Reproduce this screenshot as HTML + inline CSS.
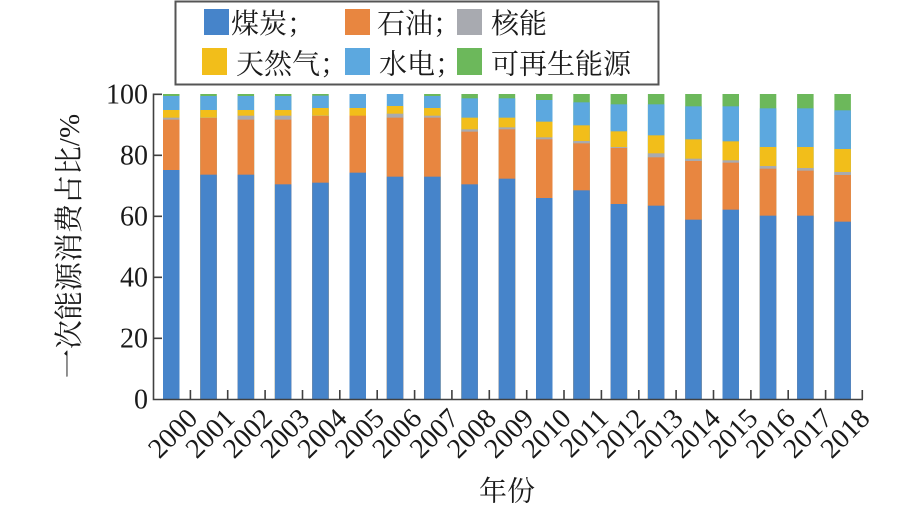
<!DOCTYPE html>
<html><head><meta charset="utf-8"><style>
html,body{margin:0;padding:0;background:#fff;}
svg{display:block;}
.n{font-family:"Liberation Serif","Noto Serif CJK SC",serif;font-size:28px;fill:#1a1a1a;}
.c{font-family:"Liberation Serif","Noto Serif CJK SC",serif;fill:#1a1a1a;}
</style></head><body>
<svg width="922" height="508" viewBox="0 0 922 508" xmlns="http://www.w3.org/2000/svg">
<rect width="922" height="508" fill="#fff"/>
<!-- legend -->
<rect x="175.5" y="1.5" width="483" height="83" fill="#fff" stroke="#555" stroke-width="2"/>
<rect x="204" y="9" width="25" height="26" fill="#4684CA"/>
<rect x="345" y="9" width="25" height="26" fill="#E88640"/>
<rect x="457" y="9" width="25" height="26" fill="#A8AAB0"/>
<rect x="202" y="48" width="25" height="27" fill="#F2BE1A"/>
<rect x="345" y="48" width="25" height="27" fill="#5CA8DF"/>
<rect x="457" y="48" width="25" height="27" fill="#6CB85B"/>
<g class="c" font-size="28">
<text x="231" y="33">煤炭；</text>
<text x="377" y="33">石油；</text>
<text x="491" y="33">核能</text>
<text x="236" y="73.5">天然气；</text>
<text x="379" y="73.5">水电；</text>
<text x="491" y="73.5">可再生能源</text>
</g>
<!-- bars -->
<g>
<!-- 2000 -->
<rect x="163" y="94" width="16.5" height="305" fill="#6CB85B"/><rect x="163" y="96" width="16.5" height="303" fill="#5CA8DF"/><rect x="163" y="110" width="16.5" height="289" fill="#F2BE1A"/><rect x="163" y="117.67" width="16.5" height="281.33" fill="#A8AAB0"/><rect x="163" y="119.67" width="16.5" height="279.33" fill="#E88640"/><rect x="163" y="170" width="16.5" height="229" fill="#4684CA"/>
<!-- 2001 -->
<rect x="200.3" y="94" width="16.5" height="305" fill="#6CB85B"/><rect x="200.3" y="96" width="16.5" height="303" fill="#5CA8DF"/><rect x="200.3" y="110" width="16.5" height="289" fill="#F2BE1A"/><rect x="200.3" y="117.67" width="16.5" height="281.33" fill="#A8AAB0"/><rect x="200.3" y="118" width="16.5" height="281" fill="#E88640"/><rect x="200.3" y="174.67" width="16.5" height="224.33" fill="#4684CA"/>
<!-- 2002 -->
<rect x="237.6" y="94" width="16.5" height="305" fill="#6CB85B"/><rect x="237.6" y="96" width="16.5" height="303" fill="#5CA8DF"/><rect x="237.6" y="110" width="16.5" height="289" fill="#F2BE1A"/><rect x="237.6" y="115.67" width="16.5" height="283.33" fill="#A8AAB0"/><rect x="237.6" y="119.67" width="16.5" height="279.33" fill="#E88640"/><rect x="237.6" y="174.67" width="16.5" height="224.33" fill="#4684CA"/>
<!-- 2003 -->
<rect x="274.9" y="94" width="16.5" height="305" fill="#6CB85B"/><rect x="274.9" y="96" width="16.5" height="303" fill="#5CA8DF"/><rect x="274.9" y="110" width="16.5" height="289" fill="#F2BE1A"/><rect x="274.9" y="115.67" width="16.5" height="283.33" fill="#A8AAB0"/><rect x="274.9" y="119.67" width="16.5" height="279.33" fill="#E88640"/><rect x="274.9" y="184.33" width="16.5" height="214.67" fill="#4684CA"/>
<!-- 2004 -->
<rect x="312.2" y="94" width="16.5" height="305" fill="#6CB85B"/><rect x="312.2" y="95.67" width="16.5" height="303.33" fill="#5CA8DF"/><rect x="312.2" y="108" width="16.5" height="291" fill="#F2BE1A"/><rect x="312.2" y="115.67" width="16.5" height="283.33" fill="#A8AAB0"/><rect x="312.2" y="116" width="16.5" height="283" fill="#E88640"/><rect x="312.2" y="182.67" width="16.5" height="216.33" fill="#4684CA"/>
<!-- 2005 -->
<rect x="349.5" y="94" width="16.5" height="305" fill="#5CA8DF"/><rect x="349.5" y="108" width="16.5" height="291" fill="#F2BE1A"/><rect x="349.5" y="115.67" width="16.5" height="283.33" fill="#E88640"/><rect x="349.5" y="172.67" width="16.5" height="226.33" fill="#4684CA"/>
<!-- 2006 -->
<rect x="386.8" y="94" width="16.5" height="305" fill="#5CA8DF"/><rect x="386.8" y="106" width="16.5" height="293" fill="#F2BE1A"/><rect x="386.8" y="113.67" width="16.5" height="285.33" fill="#A8AAB0"/><rect x="386.8" y="117.67" width="16.5" height="281.33" fill="#E88640"/><rect x="386.8" y="176.67" width="16.5" height="222.33" fill="#4684CA"/>
<!-- 2007 -->
<rect x="424.1" y="94" width="16.5" height="305" fill="#6CB85B"/><rect x="424.1" y="96" width="16.5" height="303" fill="#5CA8DF"/><rect x="424.1" y="108" width="16.5" height="291" fill="#F2BE1A"/><rect x="424.1" y="115.67" width="16.5" height="283.33" fill="#A8AAB0"/><rect x="424.1" y="117.67" width="16.5" height="281.33" fill="#E88640"/><rect x="424.1" y="176.67" width="16.5" height="222.33" fill="#4684CA"/>
<!-- 2008 -->
<rect x="461.4" y="94" width="16.5" height="305" fill="#6CB85B"/><rect x="461.4" y="98.33" width="16.5" height="300.67" fill="#5CA8DF"/><rect x="461.4" y="117.67" width="16.5" height="281.33" fill="#F2BE1A"/><rect x="461.4" y="129.33" width="16.5" height="269.67" fill="#A8AAB0"/><rect x="461.4" y="131.67" width="16.5" height="267.33" fill="#E88640"/><rect x="461.4" y="184.33" width="16.5" height="214.67" fill="#4684CA"/>
<!-- 2009 -->
<rect x="498.7" y="94" width="16.5" height="305" fill="#6CB85B"/><rect x="498.7" y="98.33" width="16.5" height="300.67" fill="#5CA8DF"/><rect x="498.7" y="117.67" width="16.5" height="281.33" fill="#F2BE1A"/><rect x="498.7" y="127.33" width="16.5" height="271.67" fill="#A8AAB0"/><rect x="498.7" y="129.33" width="16.5" height="269.67" fill="#E88640"/><rect x="498.7" y="178.67" width="16.5" height="220.33" fill="#4684CA"/>
<!-- 2010 -->
<rect x="536" y="94" width="16.5" height="305" fill="#6CB85B"/><rect x="536" y="100" width="16.5" height="299" fill="#5CA8DF"/><rect x="536" y="121.67" width="16.5" height="277.33" fill="#F2BE1A"/><rect x="536" y="137.33" width="16.5" height="261.67" fill="#A8AAB0"/><rect x="536" y="139.33" width="16.5" height="259.67" fill="#E88640"/><rect x="536" y="198" width="16.5" height="201" fill="#4684CA"/>
<!-- 2011 -->
<rect x="573.3" y="94" width="16.5" height="305" fill="#6CB85B"/><rect x="573.3" y="102.33" width="16.5" height="296.67" fill="#5CA8DF"/><rect x="573.3" y="125.33" width="16.5" height="273.67" fill="#F2BE1A"/><rect x="573.3" y="141" width="16.5" height="258" fill="#A8AAB0"/><rect x="573.3" y="143.33" width="16.5" height="255.67" fill="#E88640"/><rect x="573.3" y="190.33" width="16.5" height="208.67" fill="#4684CA"/>
<!-- 2012 -->
<rect x="610.6" y="94" width="16.5" height="305" fill="#6CB85B"/><rect x="610.6" y="104.33" width="16.5" height="294.67" fill="#5CA8DF"/><rect x="610.6" y="131.33" width="16.5" height="267.67" fill="#F2BE1A"/><rect x="610.6" y="147" width="16.5" height="252" fill="#A8AAB0"/><rect x="610.6" y="148" width="16.5" height="251" fill="#E88640"/><rect x="610.6" y="204" width="16.5" height="195" fill="#4684CA"/>
<!-- 2013 -->
<rect x="647.9" y="94" width="16.5" height="305" fill="#6CB85B"/><rect x="647.9" y="104.33" width="16.5" height="294.67" fill="#5CA8DF"/><rect x="647.9" y="135.33" width="16.5" height="263.67" fill="#F2BE1A"/><rect x="647.9" y="153.33" width="16.5" height="245.67" fill="#A8AAB0"/><rect x="647.9" y="157.33" width="16.5" height="241.67" fill="#E88640"/><rect x="647.9" y="205.67" width="16.5" height="193.33" fill="#4684CA"/>
<!-- 2014 -->
<rect x="685.2" y="94" width="16.5" height="305" fill="#6CB85B"/><rect x="685.2" y="106.33" width="16.5" height="292.67" fill="#5CA8DF"/><rect x="685.2" y="139.33" width="16.5" height="259.67" fill="#F2BE1A"/><rect x="685.2" y="158.67" width="16.5" height="240.33" fill="#A8AAB0"/><rect x="685.2" y="161" width="16.5" height="238" fill="#E88640"/><rect x="685.2" y="219.67" width="16.5" height="179.33" fill="#4684CA"/>
<!-- 2015 -->
<rect x="722.5" y="94" width="16.5" height="305" fill="#6CB85B"/><rect x="722.5" y="106.33" width="16.5" height="292.67" fill="#5CA8DF"/><rect x="722.5" y="141.33" width="16.5" height="257.67" fill="#F2BE1A"/><rect x="722.5" y="160.33" width="16.5" height="238.67" fill="#A8AAB0"/><rect x="722.5" y="162.67" width="16.5" height="236.33" fill="#E88640"/><rect x="722.5" y="209.67" width="16.5" height="189.33" fill="#4684CA"/>
<!-- 2016 -->
<rect x="759.8" y="94" width="16.5" height="305" fill="#6CB85B"/><rect x="759.8" y="108.33" width="16.5" height="290.67" fill="#5CA8DF"/><rect x="759.8" y="147" width="16.5" height="252" fill="#F2BE1A"/><rect x="759.8" y="166" width="16.5" height="233" fill="#A8AAB0"/><rect x="759.8" y="168.67" width="16.5" height="230.33" fill="#E88640"/><rect x="759.8" y="215.67" width="16.5" height="183.33" fill="#4684CA"/>
<!-- 2017 -->
<rect x="797.1" y="94" width="16.5" height="305" fill="#6CB85B"/><rect x="797.1" y="108.33" width="16.5" height="290.67" fill="#5CA8DF"/><rect x="797.1" y="147" width="16.5" height="252" fill="#F2BE1A"/><rect x="797.1" y="168" width="16.5" height="231" fill="#A8AAB0"/><rect x="797.1" y="170.67" width="16.5" height="228.33" fill="#E88640"/><rect x="797.1" y="215.67" width="16.5" height="183.33" fill="#4684CA"/>
<!-- 2018 -->
<rect x="834.4" y="94" width="16.5" height="305" fill="#6CB85B"/><rect x="834.4" y="110.33" width="16.5" height="288.67" fill="#5CA8DF"/><rect x="834.4" y="149" width="16.5" height="250" fill="#F2BE1A"/><rect x="834.4" y="172" width="16.5" height="227" fill="#A8AAB0"/><rect x="834.4" y="175" width="16.5" height="224" fill="#E88640"/><rect x="834.4" y="221.67" width="16.5" height="177.33" fill="#4684CA"/>
</g>
<!-- axes -->
<g stroke="#404040" stroke-width="1.6" fill="none">
<path d="M153.5 93.5 V399.5 H863"/>
<path d="M153 94.3 H162 M153 155.3 H162 M153 216.3 H162 M153 277.3 H162 M153 338.3 H162"/>
<path d="M190.4 399 V390 M227.7 399 V390 M265.1 399 V390 M302.5 399 V390 M339.8 399 V390 M377.2 399 V390 M414.6 399 V390 M451.9 399 V390 M489.3 399 V390 M526.7 399 V390 M564 399 V390 M601.4 399 V390 M638.8 399 V390 M676.1 399 V390 M713.5 399 V390 M750.9 399 V390 M788.2 399 V390 M825.6 399 V390 M862.3 399 V390"/>
</g>
<!-- y labels -->
<g class="n" text-anchor="end">
<text x="148" y="103.5">100</text>
<text x="148" y="164.5">80</text>
<text x="148" y="225.5">60</text>
<text x="148" y="286.5">40</text>
<text x="148" y="347.5">20</text>
<text x="148" y="408.5">0</text>
</g>
<!-- x labels -->
<g class="n" text-anchor="end">
<text transform="translate(199,420) rotate(-45)">2000</text>
<text transform="translate(236.35,420) rotate(-45)">2001</text>
<text transform="translate(273.7,420) rotate(-45)">2002</text>
<text transform="translate(311.05,420) rotate(-45)">2003</text>
<text transform="translate(348.4,420) rotate(-45)">2004</text>
<text transform="translate(385.75,420) rotate(-45)">2005</text>
<text transform="translate(423.1,420) rotate(-45)">2006</text>
<text transform="translate(460.45,420) rotate(-45)">2007</text>
<text transform="translate(497.8,420) rotate(-45)">2008</text>
<text transform="translate(535.15,420) rotate(-45)">2009</text>
<text transform="translate(572.5,420) rotate(-45)">2010</text>
<text transform="translate(609.85,420) rotate(-45)">2011</text>
<text transform="translate(647.2,420) rotate(-45)">2012</text>
<text transform="translate(684.55,420) rotate(-45)">2013</text>
<text transform="translate(721.9,420) rotate(-45)">2014</text>
<text transform="translate(759.25,420) rotate(-45)">2015</text>
<text transform="translate(796.6,420) rotate(-45)">2016</text>
<text transform="translate(833.95,420) rotate(-45)">2017</text>
<text transform="translate(871.3,420) rotate(-45)">2018</text>
</g>
<!-- axis titles -->
<text class="c" font-size="29" text-anchor="middle" transform="translate(79,246) rotate(-90)">一次能源消费占比/%</text>
<text class="c" font-size="28" text-anchor="middle" x="507" y="500.5">年份</text>
</svg>
</body></html>
